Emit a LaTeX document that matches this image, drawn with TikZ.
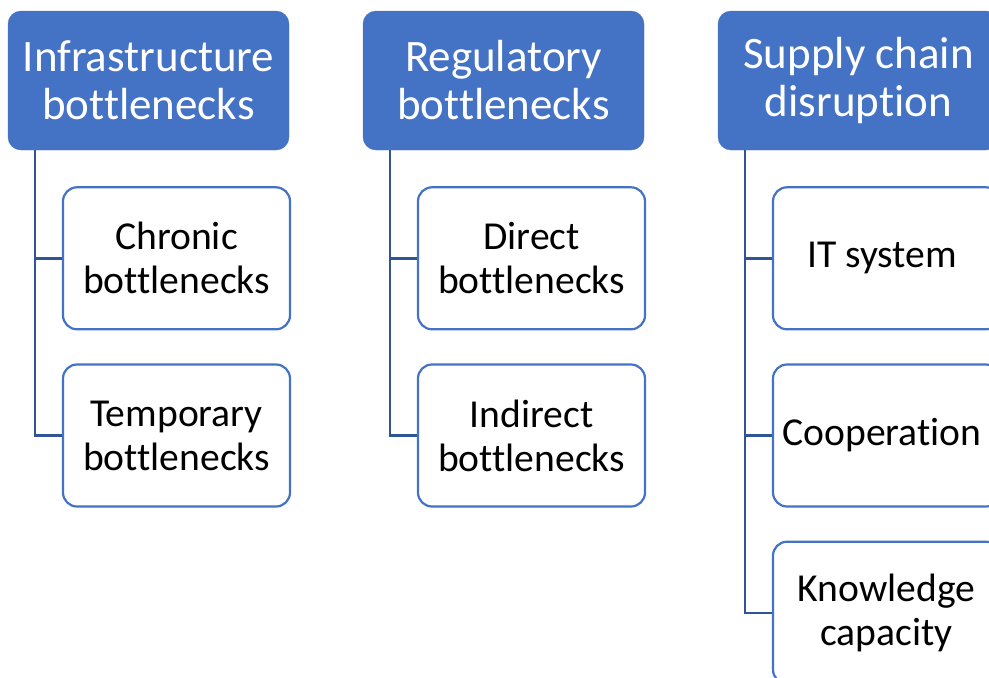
\documentclass[tikz,border=0pt]{standalone}
\usepackage{fontspec}
\setmainfont{Carlito}[Ligatures=NoCommon]
\usetikzlibrary{positioning,calc}

\definecolor{accentblue}{RGB}{68,114,196}
\definecolor{linkblue}{RGB}{47,85,151}

\begin{document}
\begin{tikzpicture}[
  x=1pt,y=1pt,
	node distance=33pt,
	every node/.style={
		text centered
	},
	header/.style={
		rectangle,
		rounded corners=13pt,
		fill=accentblue,
		draw=accentblue,
		text=white,
		minimum width=281pt,
		minimum height=139pt,
		align=center,
		font=\fontsize{45}{48}\selectfont,
		inner sep=0pt
	},
	leaf/.style={
		rectangle,
		rounded corners=14pt,
		fill=white,
		draw=accentblue,
		line width=2.2pt,
		text=black,
		minimum width=227pt,
		minimum height=142pt,
		align=center,
		font=\fontsize{39.6}{44}\selectfont,
		inner sep=0pt
	},
	link/.style={
		draw=linkblue,
		line width=2.4pt
	}
]
  \useasboundingbox (0,0) rectangle (989,-678);
  \clip (0,0) rectangle (989,-678);

  \node (Infra) [header] at (148.5,-80.5) { Infrastructure\\bottlenecks };
  \node (Regul) [header] at (503.5,-80.5) { Regulatory\\bottlenecks };
  \node (Supply) [header] at (858.5,-80.5) { Supply chain\\disruption };

  \node (Chronic) [leaf, below=36pt of Infra, xshift=28pt] { Chronic\\bottlenecks };
  \node (Temporary) [leaf, below=of Chronic] { Temporary\\bottlenecks };
  \node (Direct) [leaf, below=36pt of Regul, xshift=28pt] { Direct\\bottlenecks };
  \node (Indirect) [leaf, below=of Direct] { Indirect\\bottlenecks };
  \node (ITSystem) [leaf, below=36pt of Supply, xshift=28pt] { IT system };
  \node (Cooperation) [leaf, below=of ITSystem] { Cooperation };
  \node (Knowledge) [leaf, below=of Cooperation] { Knowledge\\capacity };

  \coordinate (InfraTrunk) at ($ (Infra.south west) + (27pt,0) $);
  \coordinate (RegulTrunk) at ($ (Regul.south west) + (27pt,0) $);
  \coordinate (SupplyTrunk) at ($ (Supply.south west) + (27pt,0) $);

  \draw[link] (InfraTrunk) |- (Chronic.west);
  \draw[link] (InfraTrunk) |- (Temporary.west);
  \draw[link] (RegulTrunk) |- (Direct.west);
  \draw[link] (RegulTrunk) |- (Indirect.west);
  \draw[link] (SupplyTrunk) |- (ITSystem.west);
  \draw[link] (SupplyTrunk) |- (Cooperation.west);
  \draw[link] (SupplyTrunk) |- (Knowledge.west);
\end{tikzpicture}
\end{document}
